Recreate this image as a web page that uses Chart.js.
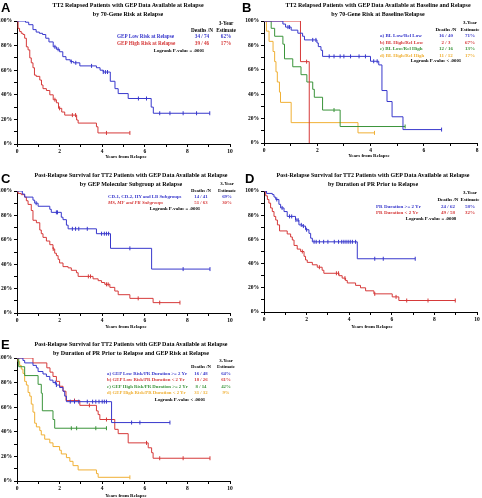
<!DOCTYPE html>
<html>
<head>
<meta charset="utf-8">
<script src="https://cdn.jsdelivr.net/npm/chart.js@4"></script>
<style>
html, body { margin: 0; padding: 0; background: #fff; }
#fig { position: relative; width: 482px; height: 498px; overflow: hidden; font-family: 'Liberation Serif', serif; font-weight: bold; color: #000; }
canvas { position: absolute; }
.t { position: absolute; white-space: nowrap; font-size: 6px; line-height: 1; }
.ley { font-size: 4.8px; }
.eje { font-size: 5px; }
.c { transform: translate(-50%, -50%); }
.l { transform: translate(0, -50%); }
.let { position: absolute; font-family: 'Liberation Sans', sans-serif; font-weight: bold; font-size: 13px; line-height: 1; }
</style>
</head>
<body>
<div id="fig"></div>
<script>
// Colores de las curvas
const AZUL = '#3838cc';
const ROJO = '#d63a3a';
const VERDE = '#3a943a';
const NARANJA = '#f0b035';

// ---- Panel A: riesgo GEP en recaida ----
const aLowT = [0, 0.4, 0.55, 0.75, 0.9, 1.05, 1.2, 1.35, 1.5, 1.7, 1.85, 2.0, 2.15, 2.3, 2.5, 2.65, 2.95, 3.73, 3.9, 4.05, 4.38, 4.6, 4.75, 5.22, 6.3, 6.4, 9.05];
const aLowS = [100, 99, 97, 93, 91, 90, 89, 86, 83, 79, 77, 75, 71, 68.5, 67, 66, 63.5, 62, 60, 58.5, 51, 45, 41, 37, 30, 25, 25];
const aLowC = [1.78, 1.93, 2.55, 2.76, 3.5, 4.05, 4.15, 4.25, 5.7, 6.08, 6.7, 7.18, 7.8, 8.43, 9.05];
const aHighT = [0, 0.05, 0.12, 0.2, 0.28, 0.36, 0.44, 0.52, 0.6, 0.67, 0.75, 0.82, 0.9, 1.07, 1.15, 1.22, 1.38, 1.54, 1.7, 1.85, 1.95, 2.1, 2.24, 2.8, 2.87, 3.73, 3.8, 5.3];
const aHighS = [100, 94, 91.5, 90, 89, 86, 79, 76.5, 70, 66, 62, 56, 55, 52, 48, 45, 43.5, 40, 36, 33.5, 29, 26, 23.5, 19.5, 17, 14, 9, 9];
const aHighC = [1.78, 2.0, 2.6, 2.75, 4.2, 5.3];

// ---- Panel B: riesgo basal / recaida ----
const bAT = [0, 0.71, 0.81, 1.02, 1.27, 1.45, 1.52, 1.99, 2.04, 2.14, 2.2, 4.0, 4.31, 4.43, 4.62, 4.81, 5.22, 6.67];
const bAS = [100, 97.5, 95, 92.5, 90, 87.5, 84.5, 82, 79, 76, 71, 67, 64, 43, 34, 21.5, 11, 11];
const bAC = [0.9, 0.96, 1.83, 1.95, 2.45, 2.63, 2.86, 3.0, 3.25, 3.57, 3.81, 4.12, 4.25, 6.67];
const bBT = [0, 1.37, 1.7];
const bBS = [100, 66.7, 0];
const bBC = [1.6];
const bCT = [0, 0.27, 0.4, 0.71, 0.77, 1.08, 1.39, 1.61, 1.83, 1.89, 2.2, 2.86, 5.3];
const bCS = [100, 94, 87.5, 81, 69, 62.5, 56, 50, 44, 37.5, 27, 13.5, 13.5];
const bCC = [2.63, 5.3];
const bDT = [0, 0.09, 0.19, 0.34, 0.4, 0.45, 0.5, 0.58, 0.62, 1.02, 3.53, 4.15];
const bDS = [100, 91.7, 83.3, 75, 66.7, 58.3, 50, 41.7, 33.3, 16.7, 8.3, 8.3];
const bDC = [4.15];

// ---- Panel C: subgrupo molecular ----
const cLoT = [0, 0.25, 0.36, 0.75, 0.83, 0.99, 1.54, 1.61, 2.08, 2.16, 2.32, 2.4, 3.73, 4.39, 6.32, 9.06];
const cLoS = [100, 97.5, 95, 92.5, 90, 87.5, 85, 82.5, 78.5, 76.5, 72, 69, 65, 53, 36, 36];
const cLoC = [0.9, 1.85, 1.9, 2.6, 2.75, 2.9, 3.3, 3.97, 4.1, 4.2, 4.3, 5.3, 7.8, 9.06];
const cHiT = [0, 0.05, 0.2, 0.36, 0.44, 0.52, 0.67, 0.75, 0.91, 1.07, 1.14, 1.22, 1.38, 1.54, 1.69, 1.77, 1.85, 1.93, 2.0, 2.16, 2.4, 2.55, 2.79, 2.87, 3.57, 3.81, 3.97, 4.12, 4.36, 4.59, 4.75, 5.3, 6.39, 7.65];
const cHiS = [100, 98, 97, 95, 92, 89, 84, 76, 74, 68, 65, 62, 59, 56, 52.5, 49, 47, 44, 41, 38, 37, 35, 33, 30, 28, 26.5, 25, 23.5, 21, 18, 15, 12, 8.5, 8.5];
const cHiC = [1.7, 3.35, 3.45, 4.2, 4.28, 5.69, 6.7, 7.65];

// ---- Panel D: duracion de la RP ----
const dLoT = [0, 0.12, 0.39, 0.47, 0.55, 0.7, 0.78, 0.94, 1.09, 1.48, 1.64, 1.8, 1.95, 2.11, 2.19, 2.27, 4.38, 7.1];
const dLoS = [100, 98, 97, 95, 93, 89, 86, 83, 79, 76, 72, 71, 68, 65, 61, 58, 44, 44];
const dLoC = [0.6, 0.85, 1.2, 1.3, 1.5, 1.6, 1.75, 1.85, 2.0, 2.35, 2.45, 2.6, 2.8, 3.0, 3.3, 3.5, 3.65, 3.75, 3.85, 3.95, 4.05, 4.15, 4.3, 5.2, 5.6, 7.1];
const dHiT = [0, 0.08, 0.16, 0.23, 0.31, 0.39, 0.47, 0.55, 0.63, 0.73, 1.09, 1.25, 1.33, 1.41, 1.56, 1.72, 1.88, 1.95, 2.03, 2.27, 2.5, 2.73, 2.81, 3.52, 3.67, 3.83, 3.91, 4.3, 4.53, 4.77, 5.16, 6.02, 6.33, 8.98];
const dHiS = [100, 96, 93, 90, 86, 83, 79, 76, 72, 67, 64.5, 62, 59.5, 55, 52, 50, 46, 43, 41, 39, 37, 34.5, 32, 30, 28, 26, 24, 22, 20, 17.5, 15, 12.5, 9.5, 9.5];
const dHiC = [1.8, 2.6, 3.4, 3.5, 3.8, 5.2, 6.2, 6.7, 7.7, 8.98];

// ---- Panel E: duracion de la RP y riesgo GEP ----
const eAT = [0, 0.28, 0.36, 0.75, 0.91, 0.99, 1.22, 1.38, 1.54, 1.69, 1.85, 2.0, 2.16, 2.24, 2.32, 4.44, 7.18];
const eAS = [100, 98, 96, 94, 92, 89, 87, 85, 82, 80, 78, 76, 73, 69, 64.5, 47.5, 47.5];
const eAC = [1.8, 1.85, 2.5, 2.7, 2.9, 3.3, 3.55, 3.7, 3.85, 4.0, 4.1, 4.2, 5.38, 5.77, 7.18];
const eBT = [0, 0.75, 1.4, 1.55, 1.69, 1.85, 2.0, 2.16, 2.3, 2.95, 3.73, 3.81, 3.89, 4.59, 4.75, 5.22, 6.16, 6.32, 6.39, 9.06];
const eBS = [100, 96, 92, 88.5, 85, 81, 77, 73, 65.4, 61.5, 57, 54, 50, 42, 38.5, 31, 27, 23, 18.5, 18.5];
const eBC = [2.7, 3.4, 4.2, 6.08, 6.7, 7.8, 9.06];
const eCT = [0, 0.08, 0.36, 0.99, 1.14, 1.19, 1.69, 1.77, 4.2];
const eCS = [100, 92.9, 85.7, 78.6, 71.4, 57.1, 50, 42.9, 42.9];
const eCC = [2.55, 2.8, 3.7, 4.2];
const eDT = [0, 0.05, 0.125, 0.2, 0.28, 0.36, 0.44, 0.52, 0.6, 0.67, 0.75, 0.83, 0.91, 1.07, 1.14, 1.3, 1.54, 1.69, 2.0, 2.08, 2.32, 2.48, 2.63, 2.87, 3.73, 3.81, 5.3];
const eDS = [100, 97, 94, 91, 87.5, 81, 78, 72, 69, 62.5, 56, 47, 44, 41, 37.5, 34, 31, 28, 25, 22, 19, 16, 12.5, 9, 6, 3, 3];
const eDC = [5.3];

const fig = document.getElementById('fig');

// Agrega un texto en la figura
function texto(x, y, str, clase, color, extra) {
    const d = document.createElement('div');
    d.className = 't ' + clase;
    d.style.left = x + 'px';
    d.style.top = y + 'px';
    if (color) d.style.color = color;
    if (extra) Object.assign(d.style, extra);
    d.textContent = str;
    fig.appendChild(d);
}

function letra(x, y, str) {
    const d = document.createElement('div');
    d.className = 'let';
    d.style.left = x + 'px';
    d.style.top = y + 'px';
    d.textContent = str;
    fig.appendChild(d);
}

// Supervivencia en el tiempo t (para las marcas de censura)
function survEn(T, S, t) {
    let v = S[0];
    for (let i = 0; i < T.length; i++) {
        if (T[i] <= t) v = S[i];
    }
    return v;
}

const fuenteTick = { family: 'Liberation Serif', size: 5.5, weight: 'bold' };

// box = [left, top, width, height] del canvas; area = [L, T, R, B] del grafico
function crearPanel(box, area, xmax, curvas) {
    const cv = document.createElement('canvas');
    cv.width = box[2];
    cv.height = box[3];
    cv.style.left = box[0] + 'px';
    cv.style.top = box[1] + 'px';
    cv.style.width = box[2] + 'px';
    cv.style.height = box[3] + 'px';
    fig.appendChild(cv);

    const yw = area[0] - box[0];
    const xh = box[1] + box[3] - area[3];

    const datasets = [];
    curvas.forEach(c => {
        datasets.push({
            data: c.T.map((t, i) => ({ x: t, y: c.S[i] })),
            showLine: true,
            stepped: true,
            borderColor: c.color,
            borderWidth: 1,
            pointRadius: 0,
            fill: false
        });
        datasets.push({
            data: c.C.map(t => ({ x: t, y: survEn(c.T, c.S, t) })),
            showLine: false,
            pointStyle: 'line',
            rotation: 90,
            pointRadius: 2,
            borderColor: c.color,
            borderWidth: 1
        });
    });

    new Chart(cv, {
        type: 'scatter',
        data: { datasets: datasets },
        options: {
            responsive: false,
            animation: false,
            events: [],
            layout: { padding: { left: 0, top: area[1] - box[1], right: box[0] + box[2] - area[2], bottom: 0 } },
            plugins: { legend: { display: false }, tooltip: { enabled: false } },
            scales: {
                x: {
                    type: 'linear', min: 0, max: xmax,
                    afterFit: s => { s.height = xh; },
                    border: { color: '#000', width: 1 },
                    grid: { drawOnChartArea: false, tickLength: 3, color: '#000' },
                    ticks: {
                        stepSize: 1, autoSkip: false, maxRotation: 0, padding: 1,
                        color: '#000', font: fuenteTick,
                        callback: v => (v % 2 === 0 ? v : '')
                    }
                },
                y: {
                    min: 0, max: 100,
                    afterFit: s => { s.width = yw; },
                    border: { color: '#000', width: 1 },
                    grid: { drawOnChartArea: false, tickLength: 3, color: '#000' },
                    ticks: {
                        stepSize: 10, autoSkip: false, padding: 2,
                        color: '#000', font: fuenteTick,
                        callback: v => (v % 20 === 0 ? v + '%' : '')
                    }
                }
            }
        }
    });
}

// Leyenda tipo tabla; tam = tamaño de letra de las filas
function leyenda(filas, labX, dX, eX, y0, dy, cabY, anoY, tam) {
    const fs = { fontSize: tam + 'px' };
    texto(eX, anoY, '3-Year', 'ley c', null, fs);
    texto(dX, cabY, 'Deaths /N', 'ley c', null, fs);
    texto(eX, cabY, 'Estimate', 'ley c', null, fs);
    filas.forEach((f, i) => {
        const y = y0 + i * dy;
        const extra = Object.assign({}, fs, f[4] ? { fontStyle: 'italic' } : {});
        texto(labX, y, f[0], 'ley l', f[3], extra);
        texto(dX, y, f[1], 'ley c', f[3], fs);
        texto(eX, y, f[2], 'ley c', f[3], fs);
    });
}

// Panel A
crearPanel([0, 0, 241, 160], [17, 21, 230, 144], 10, [
    { T: aLowT, S: aLowS, C: aLowC, color: AZUL },
    { T: aHighT, S: aHighS, C: aHighC, color: ROJO }
]);
letra(1, 1, 'A');
texto(128, 5, 'TT2 Relapsed Patients with GEP Data Available at Relapse', 'c');
texto(128, 14, 'by 70-Gene Risk at Relapse', 'c');
leyenda([
    ['GEP Low Risk at Relapse', '34 / 74', '62%', AZUL],
    ['GEP High Risk at Relapse', '39 / 46', '17%', ROJO]
], 117, 202, 226, 37, 7, 31, 24, 5.2);
texto(179, 51, 'Logrank P-value = .0001', 'ley c');
texto(126, 156, 'Years from Relapse', 'eje c');

// Panel B
crearPanel([241, 0, 241, 160], [264, 21, 478, 143], 8, [
    { T: bAT, S: bAS, C: bAC, color: AZUL },
    { T: bBT, S: bBS, C: bBC, color: ROJO },
    { T: bCT, S: bCS, C: bCC, color: VERDE },
    { T: bDT, S: bDS, C: bDC, color: NARANJA }
]);
letra(242, 1, 'B');
texto(378, 5, 'TT2 Relapsed Patients with GEP Data Available at Baseline and Relapse', 'c');
texto(378, 14, 'by 70-Gene Risk at Baseline/Relapse', 'c');
leyenda([
    ['a) BL Low/Rel Low', '16 / 40', '71%', AZUL],
    ['b) BL High/Rel Low', '2 / 3', '67%', ROJO],
    ['c) BL Low/Rel High', '12 / 16', '13%', VERDE],
    ['d) BL High/Rel High', '11 / 12', '17%', NARANJA]
], 380, 446, 470, 35, 6.5, 29, 22, 5);
texto(436, 61, 'Logrank P-value < .0001', 'ley c');
texto(369, 155, 'Years from Relapse', 'eje c');

// Panel C
crearPanel([0, 160, 241, 165], [17, 191, 230, 313], 10, [
    { T: cLoT, S: cLoS, C: cLoC, color: AZUL },
    { T: cHiT, S: cHiS, C: cHiC, color: ROJO }
]);
letra(1, 172, 'C');
texto(131, 175, 'Post-Relapse Survival for TT2 Patients with GEP Data Available at Relapse', 'c');
texto(131, 183.5, 'by GEP Molecular Subgroup at Relapse', 'c');
leyenda([
    ['CD-1, CD-2, HY and LB Subgroups', '14 / 41', '69%', AZUL],
    ['MS, MF and PR Subgroups', '51 / 63', '30%', ROJO, true]
], 108, 201, 227, 197, 6.2, 191, 184, 4.8);
texto(175, 209, 'Logrank P-value = .0001', 'ley c');
texto(126, 326, 'Years from Relapse', 'eje c');

// Panel D
crearPanel([241, 160, 241, 165], [264, 191, 478, 312], 10, [
    { T: dLoT, S: dLoS, C: dLoC, color: AZUL },
    { T: dHiT, S: dHiS, C: dHiC, color: ROJO }
]);
letra(245, 172, 'D');
texto(373, 175, 'Post-Relapse Survival for TT2 Patients with GEP Data Available at Relapse', 'c');
texto(373, 183.5, 'by Duration of PR Prior to Relapse', 'c');
leyenda([
    ['PR Duration >= 2 Yr', '24 / 62', '58%', AZUL],
    ['PR Duration < 2 Yr', '49 / 58', '32%', ROJO]
], 376, 448, 470, 205.5, 6.5, 199, 192, 5);
texto(431, 219, 'Logrank P-value = .0008', 'ley c');
texto(372, 326, 'Years from Relapse', 'eje c');

// Panel E
crearPanel([0, 325, 241, 173], [17, 358, 230, 481], 10, [
    { T: eAT, S: eAS, C: eAC, color: AZUL },
    { T: eBT, S: eBS, C: eBC, color: ROJO },
    { T: eCT, S: eCS, C: eCC, color: VERDE },
    { T: eDT, S: eDS, C: eDC, color: NARANJA }
]);
letra(1, 338, 'E');
texto(131, 344, 'Post-Relapse Survival for TT2 Patients with GEP Data Available at Relapse', 'c');
texto(131, 352.5, 'by Duration of PR Prior to Relapse and GEP Risk at Relapse', 'c');
leyenda([
    ['a) GEP Low Risk/PR Duration >= 2 Yr', '16 / 48', '64%', AZUL],
    ['b) GEP Low Risk/PR Duration < 2 Yr', '18 / 26', '61%', ROJO],
    ['c) GEP High Risk/PR Duration >= 2 Yr', '8 / 14', '42%', VERDE],
    ['d) GEP High Risk/PR Duration < 2 Yr', '31 / 32', '9%', NARANJA]
], 107, 201, 226, 373.5, 6.5, 367, 361, 4.8);
texto(180, 400, 'Logrank P-value < .0001', 'ley c');
texto(126, 495, 'Years from Relapse', 'eje c');
</script>
</body>
</html>
